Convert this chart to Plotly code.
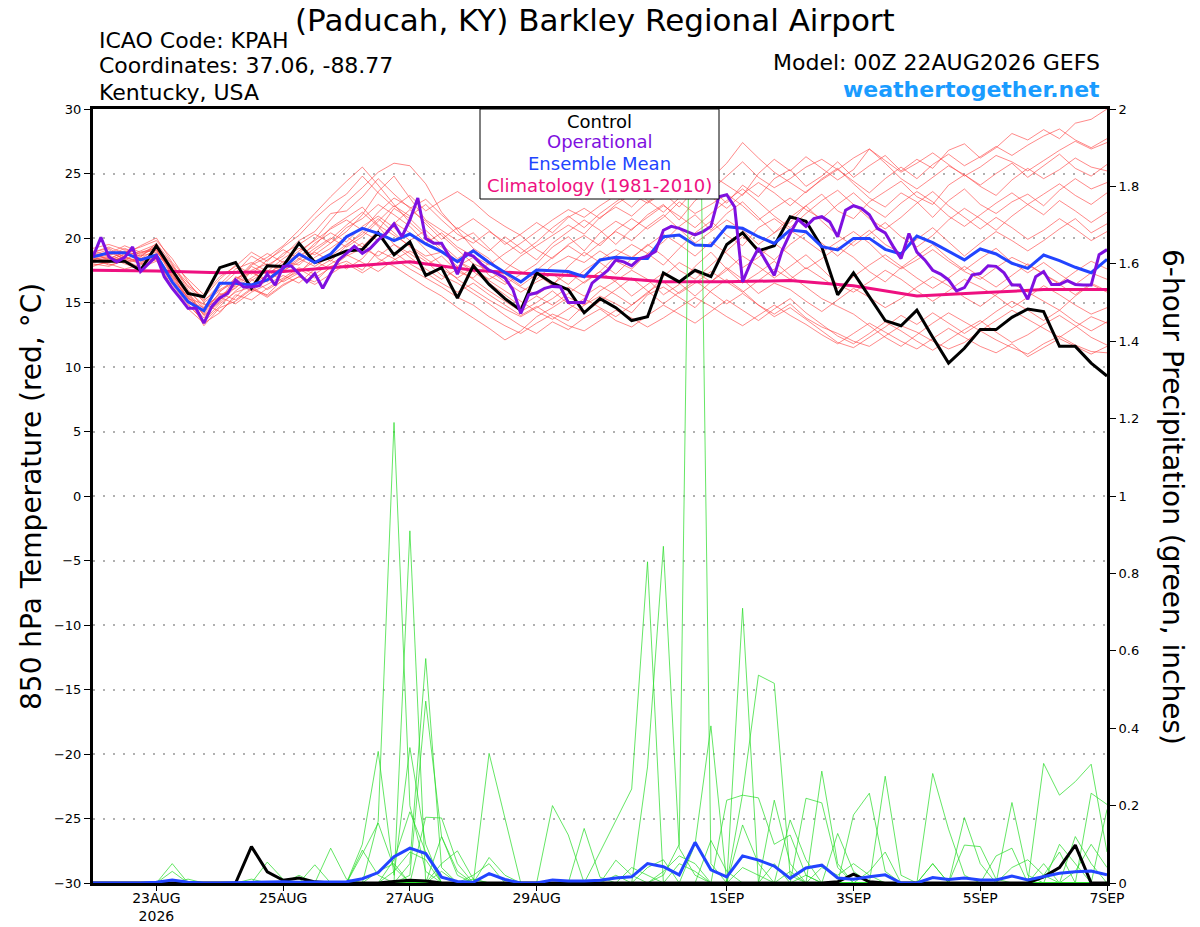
import pandas as pd
import plotly.graph_objects as go

# GEFS meteogram, 00Z 22AUG2026, 6-hourly steps (operational run is 3-hourly)
times6 = pd.date_range("2026-08-22 00:00", periods=65, freq="6h")
times3 = pd.date_range("2026-08-22 00:00", periods=129, freq="3h")
days = pd.date_range("2026-08-22", periods=17, freq="D")

tick_dates = ["2026-08-23", "2026-08-25", "2026-08-27", "2026-08-29",
              "2026-09-01", "2026-09-03", "2026-09-05", "2026-09-07"]
tick_labels = ["23AUG<br>2026", "25AUG", "27AUG", "29AUG", "1SEP", "3SEP", "5SEP", "7SEP"]

# 850 hPa temperature (C)
temp_control = [18.2, 18.2, 18.2, 17.5, 19.4, 17.5, 15.7, 15.45, 17.7, 18.1, 16.1, 17.85,
                17.8, 19.6, 18.1, 18.5, 19.0, 19.1, 20.4, 18.7, 19.7, 17.1, 17.7, 15.35,
                17.85, 16.4, 15.3, 14.4, 17.3, 16.5, 16.0, 14.2, 15.3, 14.6, 13.6, 13.9,
                17.3, 16.6, 17.5, 17.0, 19.5, 20.4, 19.0, 19.4, 21.65, 21.3, 19.3, 15.6,
                17.3, 15.45, 13.6, 13.2, 14.4, 12.3, 10.3, 11.45, 12.9, 12.9, 13.85, 14.5,
                14.3, 11.6, 11.6, 10.3, 9.3]

temp_operational = [18.55, 20.05, 18.55, 18.15, 18.5, 19.3, 17.4, 18.0, 18.6, 17.0, 16.1, 15.35,
                    14.55, 14.55, 13.4, 14.7, 15.35, 15.7, 16.75, 16.2, 16.2, 16.3, 17.2, 16.35,
                    17.8, 17.85, 17.25, 16.6, 17.25, 16.1, 17.25, 18.3, 18.8, 19.35, 18.8, 19.2,
                    19.85, 20.35, 21.1, 20.1, 21.4, 23.1, 19.95, 19.6, 19.6, 18.55, 17.2, 18.8,
                    18.6, 18.0, 17.5, 17.25, 16.9, 16.0, 14.15, 15.6, 15.75, 16.1, 16.25, 16.2,
                    15.0, 15.0, 15.0, 16.5, 17.0, 17.5, 18.3, 18.15, 17.85, 18.4, 18.6, 18.95,
                    20.6, 20.9, 20.75, 20.5, 20.25, 20.5, 20.9, 23.2, 23.35, 22.4, 16.6, 18.05,
                    19.2, 18.15, 17.1, 19.05, 20.35, 21.45, 20.9, 21.5, 21.65, 21.25, 20.1, 22.15,
                    22.5, 22.3, 21.8, 20.75, 20.4, 19.35, 18.4, 20.35, 18.9, 18.3, 17.5, 17.2,
                    16.75, 15.9, 16.15, 17.15, 17.25, 17.85, 17.8, 17.3, 16.35, 16.35, 15.25, 17.0,
                    17.4, 16.4, 16.4, 16.7, 16.4, 16.35, 16.35, 18.7, 19.1]

temp_mean = [18.55, 18.86, 18.86, 18.3, 18.68, 16.6, 15.06, 14.36, 16.5, 16.5, 16.36, 16.75,
             17.65, 18.76, 18.09, 18.76, 20.1, 20.75, 20.36, 19.8, 20.31, 19.54, 18.94, 18.17,
             19.0, 18.1, 17.33, 16.6, 17.52, 17.47, 17.4, 17.0, 18.3, 18.5, 18.42, 18.42,
             20.1, 20.23, 19.45, 19.4, 20.88, 20.75, 20.1, 19.58, 20.62, 20.49, 19.33, 19.07,
             19.97, 19.97, 19.12, 18.76, 20.15, 19.64, 18.94, 18.3, 19.15, 18.76, 18.04, 17.65,
             18.68, 18.24, 17.73, 17.31, 18.35]

temp_climo = [17.5, 17.45, 17.3, 17.4, 17.8, 18.15, 17.5, 17.2, 17.0, 16.6, 16.6, 16.7,
              16.3, 15.5, 15.75, 16.0, 16.0]

t01 = [18.6, 18.9, 18.4, 18.0, 19.1, 17.2, 15.6, 14.2, 15.8, 16.9, 17.3, 16.8, 17.9, 18.6, 19.4, 20.8,
       21.6, 22.4, 21.0, 20.2, 19.4, 18.6, 18.9, 17.8, 18.5, 17.1, 16.4, 17.2, 18.0, 19.3, 20.1, 19.0,
       20.4, 21.3, 20.6, 21.8, 22.6, 21.4, 22.9, 23.8, 22.7, 24.1, 23.2, 24.6, 25.3, 24.0, 24.8, 25.9,
       24.7, 25.6, 26.4, 25.2, 26.1, 25.4, 26.8, 27.3, 26.2, 27.0, 28.1, 27.6, 28.4, 27.7, 28.9, 29.2, 30.0]
t02 = [18.3, 18.0, 17.6, 17.9, 18.6, 16.4, 14.8, 13.6, 14.9, 15.8, 16.2, 15.5, 16.4, 17.0, 16.6, 17.8,
       18.2, 17.5, 19.0, 18.4, 17.6, 16.9, 16.2, 15.4, 14.8, 13.9, 13.2, 12.6, 13.4, 14.1, 13.6, 14.8,
       15.5, 14.9, 14.2, 15.6, 16.2, 15.4, 14.6, 15.9, 16.8, 15.9, 14.8, 14.1, 14.9, 13.8, 13.1, 12.6,
       12.0, 11.6, 12.4, 13.2, 12.7, 12.0, 11.4, 11.9, 12.8, 12.1, 11.5, 11.0, 11.8, 12.4, 11.7, 11.2, 11.1]
t03 = [18.9, 19.3, 18.8, 18.5, 19.6, 18.0, 16.2, 15.1, 16.4, 17.6, 18.1, 17.4, 18.4, 19.2, 18.7, 19.6,
       20.5, 21.8, 23.6, 24.8, 23.1, 21.4, 20.6, 19.8, 20.4, 19.2, 18.1, 17.4, 16.8, 17.9, 18.6, 18.1,
       19.0, 18.2, 17.6, 18.8, 19.7, 20.9, 21.8, 20.6, 21.9, 22.8, 21.6, 20.4, 21.2, 22.5, 23.4, 22.1,
       21.5, 22.8, 23.6, 24.4, 23.2, 22.6, 24.1, 24.9, 24.0, 23.3, 24.5, 25.4, 24.6, 25.3, 26.2, 25.5, 25.2]
t04 = [18.4, 18.7, 19.0, 18.6, 18.9, 17.6, 15.2, 13.8, 15.3, 16.4, 17.8, 17.2, 18.0, 18.8, 19.9, 21.4,
       22.8, 23.9, 25.1, 25.8, 25.6, 24.2, 22.0, 20.6, 19.2, 18.4, 17.0, 16.2, 15.6, 16.4, 17.3, 16.5,
       17.4, 18.6, 19.5, 18.8, 17.9, 19.2, 20.4, 21.3, 20.2, 19.4, 20.8, 21.5, 20.6, 19.8, 18.9, 19.7,
       20.5, 19.6, 18.4, 17.6, 18.3, 19.1, 18.2, 17.4, 16.8, 17.7, 18.5, 17.9, 17.2, 16.5, 17.4, 18.2, 17.6]
t05 = [18.1, 18.4, 18.9, 19.3, 19.8, 18.4, 16.6, 15.0, 15.9, 16.6, 17.9, 18.5, 19.4, 20.6, 21.9, 23.2,
       24.4, 25.5, 24.1, 22.6, 21.2, 20.1, 19.3, 18.2, 17.6, 16.8, 17.5, 18.6, 19.4, 20.2, 21.0, 20.3,
       21.6, 22.4, 21.7, 22.8, 23.6, 24.7, 25.4, 24.6, 25.8, 27.4, 26.2, 25.1, 24.3, 23.5, 24.6, 25.4,
       24.2, 23.1, 22.4, 23.5, 22.8, 21.6, 22.9, 23.8, 22.6, 21.9, 22.8, 23.4, 22.5, 23.7, 24.6, 23.8, 24.3]
t06 = [18.0, 17.8, 18.3, 17.7, 18.2, 16.8, 15.4, 13.2, 14.6, 15.1, 16.0, 15.6, 16.8, 17.4, 18.2, 17.6,
       18.9, 19.6, 18.4, 17.8, 17.0, 16.2, 15.5, 14.6, 13.8, 13.0, 12.1, 12.8, 13.9, 14.6, 15.4, 14.8,
       15.9, 16.7, 17.5, 16.8, 15.6, 16.4, 17.8, 18.9, 17.6, 16.5, 17.3, 18.2, 17.1, 16.2, 15.3, 14.7,
       14.1, 13.2, 12.3, 11.6, 12.5, 13.4, 14.2, 13.5, 12.8, 13.6, 14.4, 13.7, 13.0, 12.3, 13.1, 13.9, 13.4]
t07 = [19.2, 19.5, 19.1, 18.8, 19.4, 17.9, 16.0, 14.6, 16.2, 17.3, 18.6, 17.9, 18.6, 19.8, 20.5, 21.9,
       22.1, 23.2, 24.6, 23.4, 22.3, 23.0, 21.8, 20.7, 21.5, 20.6, 19.5, 20.3, 21.2, 20.4, 21.6, 22.3,
       21.5, 22.6, 23.4, 22.7, 23.5, 22.4, 23.8, 24.9, 24.1, 23.3, 25.0, 26.1, 25.2, 26.3, 25.4, 24.5,
       25.3, 26.9, 26.0, 25.1, 25.8, 26.6, 25.7, 24.8, 25.5, 26.4, 25.9, 25.2, 26.0, 26.8, 27.5, 26.9, 27.4]
t08 = [17.8, 18.2, 18.5, 18.1, 18.5, 17.0, 15.9, 14.8, 15.4, 14.9, 15.8, 16.4, 17.1, 16.5, 17.6, 18.3,
       17.6, 18.4, 19.8, 21.2, 20.4, 19.1, 17.9, 16.8, 16.0, 15.2, 14.5, 13.9, 14.6, 15.3, 16.2, 15.5,
       16.3, 15.6, 14.8, 15.7, 17.0, 18.1, 17.4, 16.6, 17.5, 18.6, 17.8, 16.9, 17.8, 18.7, 17.6, 16.4,
       15.8, 16.6, 17.5, 16.8, 15.9, 15.1, 15.9, 16.8, 16.2, 15.5, 14.6, 15.4, 16.3, 15.6, 14.8, 14.1, 14.6]
t09 = [18.5, 18.1, 18.6, 19.0, 19.5, 17.4, 15.8, 14.0, 15.0, 16.2, 16.9, 17.7, 18.8, 19.5, 20.3, 19.6,
       20.8, 21.5, 22.6, 21.8, 20.9, 19.6, 20.4, 19.3, 18.6, 17.9, 18.8, 19.6, 20.5, 21.4, 22.2, 21.6,
       22.5, 23.3, 22.4, 23.6, 24.4, 25.6, 24.5, 23.7, 24.8, 25.9, 24.7, 23.9, 24.6, 25.5, 26.1, 25.3,
       26.2, 26.9, 25.8, 24.6, 23.8, 24.7, 25.6, 24.9, 24.1, 25.0, 25.8, 24.7, 25.6, 26.5, 25.4, 24.8, 25.7]
t10 = [18.2, 18.5, 18.0, 17.6, 18.4, 16.2, 14.5, 13.4, 14.2, 15.6, 15.2, 16.1, 16.9, 17.7, 17.2, 18.0,
       18.7, 18.1, 17.4, 18.3, 19.0, 18.2, 17.1, 16.5, 15.7, 14.9, 14.0, 13.2, 12.6, 13.5, 12.9, 13.8,
       14.5, 13.6, 13.1, 14.0, 14.8, 14.1, 13.4, 14.3, 15.2, 14.4, 13.6, 14.5, 15.3, 14.2, 13.3, 12.4,
       11.8, 12.6, 13.5, 12.8, 12.0, 11.3, 12.1, 12.9, 13.6, 12.7, 11.9, 12.5, 13.3, 14.0, 13.2, 12.3, 11.7]
t11 = [19.0, 18.6, 19.2, 18.7, 19.3, 17.7, 16.3, 15.4, 16.8, 17.9, 17.2, 18.3, 19.1, 18.4, 19.6, 20.4,
       19.7, 20.9, 21.7, 20.8, 19.8, 20.6, 19.5, 18.4, 19.1, 18.2, 17.3, 16.6, 17.5, 18.5, 19.4, 18.6,
       19.6, 20.5, 19.8, 20.9, 21.8, 20.7, 19.6, 20.5, 21.4, 20.6, 19.5, 20.4, 21.6, 22.5, 21.3, 20.2,
       19.4, 20.3, 21.2, 20.1, 19.3, 20.2, 21.4, 22.3, 21.5, 20.6, 21.7, 22.6, 21.8, 22.9, 22.1, 21.2, 22.0]
t12 = [18.7, 19.1, 18.3, 18.9, 19.2, 17.3, 15.0, 14.4, 15.6, 16.1, 17.4, 16.6, 17.5, 18.1, 18.9, 18.2,
       19.4, 20.5, 19.8, 21.1, 22.2, 21.3, 20.2, 19.1, 18.0, 17.5, 16.6, 15.8, 16.6, 17.2, 16.4, 17.5,
       18.3, 19.1, 18.5, 19.4, 20.3, 19.5, 18.6, 19.7, 18.8, 17.7, 18.5, 19.6, 18.7, 17.6, 18.4, 19.3,
       18.5, 17.4, 16.6, 17.7, 18.6, 19.5, 18.4, 17.5, 18.4, 19.2, 18.1, 17.3, 18.1, 17.2, 16.4, 17.3, 16.8]
t13 = [18.8, 18.3, 18.7, 19.4, 20.0, 18.1, 16.8, 15.6, 17.0, 17.8, 18.9, 18.2, 19.3, 20.2, 21.5, 22.6,
       23.4, 24.8, 23.5, 22.4, 23.3, 22.1, 22.9, 23.6, 22.8, 21.7, 20.9, 20.2, 19.1, 18.4, 19.5, 20.2,
       19.4, 20.6, 21.5, 20.7, 21.6, 22.8, 21.9, 22.6, 23.4, 22.5, 21.4, 22.3, 23.1, 22.2, 21.5, 22.6,
       23.5, 22.4, 21.6, 22.7, 23.6, 22.8, 21.7, 20.9, 21.8, 22.7, 23.5, 22.6, 23.4, 24.2, 23.3, 22.6, 23.5]
t14 = [18.4, 17.9, 18.2, 18.4, 18.7, 16.9, 15.3, 14.9, 14.3, 15.4, 16.7, 17.5, 16.6, 17.3, 18.5, 19.2,
       20.1, 19.3, 20.6, 22.3, 21.5, 20.3, 19.0, 18.2, 17.4, 16.5, 15.6, 14.7, 15.5, 14.8, 15.7, 16.6,
       17.4, 16.6, 15.5, 16.4, 17.3, 16.5, 15.5, 16.6, 17.7, 16.8, 15.7, 16.5, 16.0, 15.1, 14.3, 15.2,
       16.1, 15.4, 14.6, 15.3, 16.2, 17.0, 16.3, 15.4, 14.7, 15.6, 16.5, 15.8, 15.1, 14.4, 15.5, 16.4, 15.8]
t15 = [18.6, 18.8, 19.4, 18.9, 19.0, 17.5, 15.5, 14.0, 15.1, 17.0, 16.4, 17.1, 18.2, 17.9, 19.0, 19.9,
       21.0, 22.0, 20.9, 19.5, 18.8, 17.9, 18.6, 17.4, 16.9, 18.1, 17.2, 16.3, 17.2, 16.3, 17.8, 18.9,
       18.1, 17.2, 18.4, 19.5, 18.6, 17.5, 16.8, 17.9, 19.0, 20.1, 19.2, 18.3, 19.5, 20.4, 19.6, 18.6,
       19.7, 20.6, 19.5, 18.8, 19.9, 20.8, 19.7, 18.6, 19.6, 20.5, 19.8, 19.0, 19.8, 20.7, 21.5, 20.4, 21.1]
t16 = [18.3, 18.6, 18.1, 18.3, 18.8, 16.6, 14.9, 13.5, 14.7, 15.9, 16.8, 16.0, 16.7, 17.6, 16.9, 17.7,
       18.6, 19.2, 18.6, 19.5, 18.5, 17.6, 16.8, 17.6, 16.8, 15.9, 15.1, 14.3, 15.0, 15.9, 14.9, 14.2,
       15.1, 16.0, 16.9, 15.9, 14.9, 15.8, 16.7, 15.8, 14.9, 15.7, 14.8, 13.9, 14.6, 13.7, 12.8, 11.9,
       11.5, 12.3, 13.1, 14.0, 13.3, 14.2, 13.4, 12.6, 13.4, 14.3, 15.1, 14.4, 13.6, 14.4, 13.5, 12.8, 13.5]
t17 = [18.9, 19.2, 18.5, 18.2, 18.6, 17.8, 16.5, 15.2, 16.0, 16.7, 18.0, 18.8, 18.1, 19.0, 19.8, 20.7,
       21.4, 20.6, 22.0, 23.1, 22.4, 21.1, 19.9, 20.8, 19.9, 19.0, 20.1, 19.2, 18.3, 19.6, 20.5, 21.4,
       20.6, 19.5, 20.7, 21.6, 22.5, 21.7, 20.8, 21.9, 22.9, 23.8, 22.8, 21.7, 20.8, 21.9, 22.9, 23.7,
       22.6, 21.5, 20.7, 21.6, 22.7, 23.6, 22.5, 21.6, 20.7, 21.6, 20.8, 19.9, 20.6, 21.5, 20.7, 19.8, 20.5]
t18 = [18.5, 18.2, 18.8, 18.4, 19.1, 17.0, 15.4, 14.1, 15.5, 16.3, 17.5, 18.0, 17.4, 18.3, 19.2, 20.0,
       19.3, 20.1, 21.3, 22.5, 21.7, 22.6, 21.4, 20.3, 19.6, 20.5, 19.7, 18.8, 19.7, 20.8, 21.7, 20.8,
       21.9, 22.8, 23.7, 22.9, 22.0, 23.1, 24.0, 23.2, 22.3, 23.4, 24.3, 23.5, 22.5, 23.6, 24.5, 25.3,
       24.4, 23.5, 24.6, 25.5, 24.6, 25.7, 26.5, 25.6, 26.3, 27.1, 26.4, 27.2, 27.9, 28.45, 27.6, 27.0, 27.7]
t19 = [17.9, 18.1, 18.6, 18.0, 18.3, 16.5, 15.1, 14.6, 15.2, 16.5, 15.9, 16.7, 17.6, 18.4, 17.8, 18.6,
       19.5, 20.3, 21.5, 20.4, 19.3, 18.4, 17.6, 16.9, 17.7, 16.7, 15.9, 15.1, 14.3, 13.7, 14.5, 15.3,
       14.6, 13.9, 14.8, 15.8, 16.6, 15.7, 16.5, 17.4, 16.6, 15.8, 16.7, 17.6, 16.8, 17.7, 16.9, 16.1,
       17.0, 17.9, 18.7, 17.8, 16.9, 16.1, 16.9, 17.8, 17.0, 16.2, 17.1, 18.0, 17.2, 16.4, 15.6, 16.5, 15.9]
t20 = [18.7, 18.4, 18.9, 18.6, 19.3, 17.1, 15.7, 14.5, 15.7, 15.2, 16.1, 15.4, 16.3, 17.0, 16.4, 17.2,
       18.0, 17.3, 18.1, 18.9, 18.0, 17.3, 16.5, 15.8, 16.5, 15.6, 14.8, 14.0, 14.7, 13.9, 13.2, 12.8,
       13.6, 14.4, 13.8, 13.1, 13.8, 14.6, 15.4, 14.7, 13.9, 13.2, 14.0, 14.8, 14.0, 13.3, 12.5, 11.8,
       12.6, 13.4, 12.7, 12.0, 11.4, 12.2, 13.0, 12.3, 11.6, 11.1, 11.8, 10.8, 11.5, 12.2, 11.6, 11.0, 11.6]

# 6-hour precipitation (inches)
precip_control = [0, 0, 0, 0, 0, 0, 0, 0, 0, 0, 0.094, 0.029, 0.007, 0.013, 0.003, 0,
                  0, 0, 0, 0.004, 0.007, 0.005, 0, 0, 0, 0, 0, 0, 0, 0, 0, 0,
                  0, 0, 0, 0, 0, 0, 0, 0, 0, 0, 0, 0, 0, 0, 0, 0.003,
                  0.023, 0.003, 0, 0, 0, 0, 0, 0, 0, 0, 0, 0, 0.016, 0.04, 0.098, 0, 0]

precip_mean = [0, 0, 0, 0, 0.002, 0.008, 0.002, 0, 0, 0.001, 0.002, 0.003, 0.003, 0.002, 0.002, 0.002,
               0.003, 0.011, 0.027, 0.068, 0.09, 0.076, 0.015, 0.004, 0.002, 0.024, 0.009, 0, 0, 0.008, 0.005, 0.005,
               0.007, 0.013, 0.016, 0.05, 0.042, 0.021, 0.105, 0.034, 0.016, 0.07, 0.059, 0.044, 0.012, 0.039, 0.046, 0.013,
               0.01, 0.016, 0.021, 0, 0, 0.014, 0.009, 0.013, 0.008, 0.008, 0.018, 0.008, 0.016, 0.025, 0.029, 0.031, 0.021]

g01 = [0, 0, 0, 0, 0, 0, 0, 0, 0, 0, 0, 0, 0, 0, 0, 0,
       0, 0, 0.03, 0.05, 0, 0, 0, 0, 0, 0, 0, 0, 0, 0, 0, 0,
       0, 0, 0, 0, 0.02, 0.1, 3.0, 0.05, 0, 0, 0, 0, 0, 0.02, 0, 0,
       0, 0, 0, 0, 0, 0, 0, 0, 0, 0, 0, 0, 0, 0, 0, 0, 0]
g02 = [0, 0, 0, 0, 0, 0, 0, 0, 0, 0, 0, 0, 0, 0, 0, 0,
       0, 0, 0.16, 1.19, 0.2, 0.03, 0, 0, 0, 0, 0, 0, 0, 0, 0, 0,
       0, 0.02, 0, 0, 0, 0, 0, 0, 0, 0, 0, 0, 0, 0, 0, 0,
       0, 0, 0, 0, 0, 0.05, 0, 0, 0, 0, 0, 0, 0, 0, 0, 0, 0]
g03 = [0, 0, 0, 0, 0, 0.05, 0, 0, 0, 0, 0, 0, 0, 0, 0, 0,
       0, 0, 0, 0, 0.91, 0, 0.03, 0, 0, 0, 0, 0, 0, 0, 0, 0,
       0, 0, 0, 0, 0, 0, 0, 0, 0, 0.04, 0.02, 0, 0, 0, 0, 0,
       0, 0, 0, 0, 0, 0, 0, 0, 0, 0, 0, 0, 0, 0, 0, 0, 0]
g04 = [0, 0, 0, 0, 0, 0, 0, 0, 0, 0, 0, 0, 0, 0, 0, 0,
       0, 0, 0, 0, 0.05, 0.58, 0.04, 0, 0, 0, 0, 0, 0, 0.2, 0.124, 0,
       0, 0, 0, 0, 0, 0, 0, 0, 0, 0, 0, 0, 0, 0, 0, 0,
       0, 0.03, 0.08, 0, 0, 0, 0, 0, 0, 0, 0, 0, 0, 0, 0, 0, 0]
g05 = [0, 0, 0, 0, 0, 0, 0, 0, 0, 0, 0, 0, 0, 0, 0, 0,
       0, 0, 0, 0, 0.02, 0.47, 0.12, 0.03, 0, 0, 0, 0, 0, 0, 0, 0,
       0, 0, 0, 0, 0, 0, 0, 0, 0, 0, 0, 0, 0, 0, 0.289, 0.05,
       0, 0, 0, 0, 0, 0, 0, 0, 0, 0, 0, 0, 0.05, 0, 0, 0, 0]
g06 = [0, 0, 0, 0, 0, 0, 0, 0, 0, 0, 0, 0, 0, 0, 0, 0,
       0, 0.1, 0.34, 0.02, 0.35, 0.1, 0, 0, 0, 0, 0, 0, 0, 0, 0, 0.141,
       0.015, 0, 0, 0, 0, 0, 0, 0, 0, 0, 0, 0, 0, 0, 0, 0,
       0, 0, 0, 0, 0, 0, 0, 0.169, 0.05, 0, 0, 0, 0, 0, 0, 0, 0]
g07 = [0, 0, 0, 0, 0, 0, 0, 0, 0, 0, 0, 0, 0, 0, 0, 0.09,
       0.01, 0, 0, 0, 0, 0, 0, 0, 0, 0, 0, 0, 0, 0, 0, 0,
       0.08, 0.16, 0.243, 0.83, 0, 0, 0, 0, 0, 0, 0, 0, 0.03, 0, 0, 0,
       0, 0, 0, 0, 0, 0, 0, 0, 0, 0, 0.208, 0.02, 0, 0, 0, 0, 0]
g08 = [0, 0, 0, 0, 0, 0, 0, 0, 0, 0, 0, 0, 0, 0, 0, 0,
       0, 0, 0, 0, 0, 0, 0, 0, 0, 0, 0, 0, 0, 0, 0, 0,
       0, 0, 0, 0.3, 0.87, 0.09, 0.02, 0, 0, 0, 0, 0.05, 0, 0, 0, 0,
       0, 0, 0, 0, 0, 0, 0, 0, 0, 0, 0, 0, 0.309, 0.227, 0.262, 0.307, 0.08]
g09 = [0, 0, 0, 0, 0, 0, 0, 0, 0, 0, 0, 0, 0, 0, 0, 0,
       0, 0, 0, 0, 0, 0, 0, 0, 0.01, 0, 0, 0, 0, 0, 0, 0,
       0, 0, 0, 0, 0, 0, 0.1, 0.406, 0, 0, 0, 0, 0, 0, 0, 0,
       0.176, 0.232, 0.03, 0, 0, 0, 0, 0, 0, 0, 0, 0, 0, 0, 0, 0, 0]
g10 = [0, 0, 0, 0, 0, 0, 0, 0, 0, 0, 0, 0, 0, 0, 0, 0,
       0, 0.085, 0.02, 0, 0, 0, 0, 0, 0, 0, 0, 0, 0, 0, 0, 0,
       0, 0, 0, 0, 0, 0, 0, 0, 0, 0.71, 0, 0, 0, 0, 0, 0,
       0, 0, 0, 0, 0, 0.283, 0.139, 0.02, 0, 0, 0, 0, 0, 0, 0, 0, 0]
g11 = [0, 0, 0, 0, 0, 0, 0, 0, 0, 0, 0, 0, 0, 0, 0, 0,
       0, 0, 0, 0, 0, 0.17, 0.168, 0.05, 0, 0, 0, 0, 0, 0, 0, 0,
       0, 0, 0, 0, 0, 0, 0, 0, 0, 0.23, 0.537, 0.516, 0.02, 0, 0, 0,
       0, 0, 0.276, 0.02, 0, 0, 0, 0, 0, 0, 0, 0, 0, 0, 0, 0, 0]
g12 = [0, 0, 0, 0, 0, 0, 0, 0, 0, 0, 0, 0, 0, 0, 0, 0,
       0, 0, 0, 0, 0, 0, 0, 0, 0, 0.335, 0.17, 0, 0, 0, 0, 0,
       0, 0, 0, 0, 0, 0, 0, 0, 0, 0, 0, 0, 0, 0.219, 0.207, 0.04,
       0, 0, 0, 0, 0, 0, 0, 0, 0, 0, 0, 0, 0, 0, 0, 0.232, 0.203]
g13 = [0, 0, 0, 0, 0, 0, 0, 0, 0, 0, 0, 0.054, 0.01, 0, 0, 0,
       0, 0, 0, 0, 0, 0, 0, 0, 0, 0, 0, 0, 0, 0, 0, 0,
       0, 0, 0, 0, 0, 0, 0, 0, 0.214, 0.227, 0.22, 0.1, 0.124, 0.02, 0, 0,
       0, 0, 0, 0, 0, 0, 0, 0, 0, 0, 0, 0, 0, 0.1, 0.05, 0, 0]
g14 = [0, 0, 0, 0, 0, 0.03, 0, 0, 0, 0, 0, 0, 0, 0, 0.047, 0,
       0, 0, 0, 0.06, 0.184, 0.08, 0, 0, 0, 0.066, 0.02, 0, 0, 0, 0, 0,
       0, 0, 0, 0, 0, 0.05, 0.03, 0, 0, 0, 0, 0.214, 0.05, 0, 0, 0,
       0, 0, 0, 0, 0, 0, 0, 0, 0, 0.07, 0.09, 0, 0, 0, 0, 0, 0]
g15 = [0, 0, 0, 0, 0, 0, 0, 0, 0, 0, 0, 0, 0, 0.02, 0, 0,
       0, 0.075, 0.155, 0.04, 0, 0, 0.12, 0.02, 0, 0, 0, 0, 0, 0, 0, 0,
       0, 0.059, 0.02, 0, 0, 0, 0, 0.11, 0.03, 0, 0, 0, 0, 0, 0, 0.128,
       0.03, 0, 0, 0, 0, 0, 0, 0, 0, 0, 0, 0, 0, 0, 0.12, 0.05, 0]
g16 = [0, 0, 0, 0, 0, 0, 0, 0, 0, 0, 0, 0, 0, 0, 0, 0,
       0, 0, 0, 0, 0, 0, 0, 0, 0.02, 0.05, 0, 0, 0, 0, 0, 0,
       0, 0, 0, 0.04, 0.06, 0, 0, 0, 0, 0.15, 0.05, 0, 0, 0, 0, 0,
       0, 0, 0, 0, 0, 0, 0, 0.098, 0.094, 0.01, 0, 0, 0.02, 0.08, 0, 0, 0.19]
g17 = [0, 0, 0, 0, 0, 0, 0, 0, 0, 0, 0.01, 0, 0, 0, 0, 0,
       0, 0, 0, 0.03, 0.08, 0.06, 0, 0, 0, 0, 0, 0, 0, 0, 0, 0,
       0, 0, 0, 0, 0.03, 0.07, 0.05, 0, 0, 0, 0, 0, 0.163, 0.06, 0, 0,
       0, 0, 0, 0, 0, 0.05, 0, 0, 0, 0, 0, 0, 0, 0, 0.03, 0.1, 0.04]
g18 = [0, 0, 0, 0, 0, 0, 0.01, 0, 0, 0, 0, 0, 0, 0, 0, 0,
       0, 0, 0, 0, 0, 0, 0.05, 0.083, 0.01, 0, 0, 0, 0, 0, 0, 0,
       0, 0, 0.04, 0.02, 0, 0, 0, 0, 0, 0, 0, 0, 0, 0, 0.04, 0.02,
       0.05, 0.02, 0, 0, 0, 0, 0, 0, 0, 0, 0.04, 0.06, 0.02, 0, 0, 0, 0]

temp_members = [t01, t02, t03, t04, t05, t06, t07, t08, t09, t10,
                t11, t12, t13, t14, t15, t16, t17, t18, t19, t20]
precip_members = [g01, g02, g03, g04, g05, g06, g07, g08, g09,
                  g10, g11, g12, g13, g14, g15, g16, g17, g18]

FONT = "DejaVu Sans, Verdana, sans-serif"
C_OPER = "#7f10e0"
C_MEAN = "#2244ff"
C_CLIM = "#ee1080"

fig = go.Figure()

# ensemble members (temperature)
for m in temp_members:
    fig.add_trace(go.Scatter(x=times6[:len(m)], y=m, mode="lines",
                             line=dict(color="rgba(255,70,70,0.8)", width=0.8),
                             hoverinfo="skip"))

fig.add_trace(go.Scatter(x=days, y=temp_climo, mode="lines",
                         line=dict(color=C_CLIM, width=3), name="Climatology"))
fig.add_trace(go.Scatter(x=times6, y=temp_control, mode="lines",
                         line=dict(color="black", width=3), name="Control"))
fig.add_trace(go.Scatter(x=times6, y=temp_mean, mode="lines",
                         line=dict(color=C_MEAN, width=3), name="Ensemble Mean"))
fig.add_trace(go.Scatter(x=times3, y=temp_operational, mode="lines",
                         line=dict(color=C_OPER, width=3), name="Operational"))

# precipitation on the right axis
for m in precip_members:
    fig.add_trace(go.Scatter(x=times6[:len(m)], y=m, mode="lines", yaxis="y2",
                             line=dict(color="rgba(40,220,40,0.9)", width=0.8),
                             hoverinfo="skip"))
fig.add_trace(go.Scatter(x=times6, y=precip_control, mode="lines", yaxis="y2",
                         line=dict(color="black", width=3)))
fig.add_trace(go.Scatter(x=times6, y=precip_mean, mode="lines", yaxis="y2",
                         line=dict(color=C_MEAN, width=3)))

fig.update_layout(
    width=1200, height=927,
    margin=dict(l=93, r=93, t=109, b=44, autoexpand=False),
    plot_bgcolor="white", paper_bgcolor="white",
    showlegend=False,
    font=dict(family=FONT, color="black"),
    xaxis=dict(type="date", range=["2026-08-22 00:00", "2026-09-07 00:00"],
               tickvals=tick_dates, ticktext=tick_labels, automargin=False,
               ticks="outside", ticklen=5, tickwidth=1, tickcolor="black",
               ticklabelstandoff=-5,
               showline=True, linewidth=3, linecolor="black", mirror=True,
               showgrid=False, zeroline=False, tickfont=dict(size=14)),
    yaxis=dict(range=[-30, 30], tickmode="linear", tick0=-30, dtick=5, automargin=False,
               ticks="outside", ticklen=6, tickwidth=1, tickcolor="black",
               showline=True, linewidth=3, linecolor="black",
               showgrid=True, gridcolor="#b0b0b0", gridwidth=1.5, griddash="2px,8px",
               zeroline=False, tickfont=dict(size=13)),
    yaxis2=dict(range=[0, 2], overlaying="y", side="right", automargin=False,
                tickvals=[0, 0.2, 0.4, 0.6, 0.8, 1, 1.2, 1.4, 1.6, 1.8, 2],
                ticktext=["0", "0.2", "0.4", "0.6", "0.8", "1", "1.2", "1.4", "1.6", "1.8", "2"],
                ticks="outside", ticklen=6, tickwidth=1, tickcolor="black",
                showline=True, linewidth=3, linecolor="black",
                showgrid=False, zeroline=False, tickfont=dict(size=13)),
)


def py(pix):
    # window pixel row -> paper y (plot area spans rows 109..883)
    return (883 - pix) / 774


def px_(pix):
    # window pixel column -> paper x (plot area spans columns 93..1107)
    return (pix - 93) / 1014


# legend box
fig.add_shape(type="rect", xref="paper", yref="paper",
              x0=px_(480), x1=px_(719), y0=py(199), y1=py(109),
              fillcolor="white", line=dict(color="black", width=1), layer="above")

ann = [
    dict(text="(Paducah, KY) Barkley Regional Airport", x=px_(595), y=py(20),
         font=dict(size=31)),
    dict(text="ICAO Code: KPAH", x=px_(97), y=py(40), xanchor="left", font=dict(size=22)),
    dict(text="Coordinates: 37.06, -88.77", x=px_(97), y=py(66), xanchor="left", font=dict(size=22)),
    dict(text="Kentucky, USA", x=px_(97), y=py(92), xanchor="left", font=dict(size=22)),
    dict(text="Model: 00Z 22AUG2026 GEFS", x=px_(1102), y=py(63), xanchor="right", font=dict(size=22)),
    dict(text="<b>weathertogether.net</b>", x=px_(1102), y=py(89), xanchor="right",
         font=dict(size=22, color="#1a9cff")),
    dict(text="850 hPa Temperature (red, °C)", x=px_(32), y=py(497), textangle=-90,
         font=dict(size=28)),
    dict(text="6-hour Precipitation (green, inches)", x=px_(1172), y=py(497), textangle=90,
         font=dict(size=28)),
    dict(text="Control", x=px_(599.5), y=py(121), font=dict(size=18)),
    dict(text="Operational", x=px_(599.5), y=py(142), font=dict(size=18, color=C_OPER)),
    dict(text="Ensemble Mean", x=px_(599.5), y=py(163), font=dict(size=18, color=C_MEAN)),
    dict(text="Climatology (1981-2010)", x=px_(599.5), y=py(185), font=dict(size=18, color=C_CLIM)),
]
for a in ann:
    a.setdefault("yanchor", "middle")
    a.setdefault("xanchor", "center")
    fig.add_annotation(xref="paper", yref="paper", showarrow=False, **a)

# the page body otherwise adds an 8px margin around the figure
fig.write_html("out.html", config={"displayModeBar": False},
               post_script="document.body.style.margin = '0px';")
